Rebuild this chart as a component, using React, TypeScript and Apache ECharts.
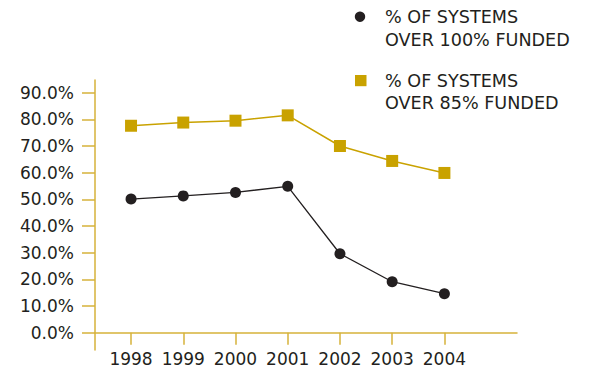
import React, { useEffect, useRef } from "react";
import * as echarts from "echarts";

const years = [1998, 1999, 2000, 2001, 2002, 2003, 2004];
const over100 = [50.1, 51.3, 52.6, 54.9, 29.6, 19.1, 14.6];
const over85 = [77.6, 78.8, 79.5, 81.5, 70.0, 64.4, 59.9];
const yTicks = [0, 10, 20, 30, 40, 50, 60, 70, 80, 90];
const legendLabels = ["% OF SYSTEMS\nOVER 100% FUNDED", "% OF SYSTEMS\nOVER 85% FUNDED"];

const BLACK = "#231F20";
const GOLD = "#C9A200";
const AXIS_GOLD = "#D6B23A";
const FONT = "DejaVu Sans";

export default function App() {
  const ref = useRef<HTMLDivElement>(null);
  useEffect(() => {
    if (!ref.current) return;
    const chart = echarts.init(ref.current, null, { renderer: "svg" });
    chart.setOption({
      animation: false,
      backgroundColor: "#ffffff",
      grid: { left: 95, right: 74, top: 80, bottom: 19, outerBoundsMode: "none" },
      xAxis: {
        type: "value",
        min: 1997.31,
        max: 2005.39,
        splitLine: { show: false },
        axisLine: { onZero: true, lineStyle: { color: AXIS_GOLD, width: 1.5 } },
        axisTick: { customValues: years, length: 12, lineStyle: { color: AXIS_GOLD, width: 1.5 } },
        axisLabel: {
          customValues: years,
          formatter: (v: number) => String(v),
          margin: 0,
          color: BLACK,
          fontFamily: FONT,
          fontSize: 17,
        },
      },
      yAxis: {
        type: "value",
        min: -6.5,
        max: 94.76,
        splitLine: { show: false },
        axisLine: { show: true, onZero: false, lineStyle: { color: AXIS_GOLD, width: 1.5 } },
        axisTick: { show: true, customValues: yTicks, length: 13, lineStyle: { color: AXIS_GOLD, width: 1.5 } },
        axisLabel: {
          customValues: yTicks,
          formatter: (v: number) => v.toFixed(1) + "%",
          margin: 21,
          color: BLACK,
          fontFamily: FONT,
          fontSize: 17,
        },
      },
      series: [
        {
          name: "over100",
          type: "line",
          data: years.map((y, i) => [y, over100[i]]),
          symbol: "circle",
          symbolSize: 11,
          itemStyle: { color: BLACK },
          lineStyle: { color: BLACK, width: 1.3 },
          z: 3,
        },
        {
          name: "over85",
          type: "line",
          data: years.map((y, i) => [y, over85[i]]),
          symbol: "rect",
          symbolSize: 12,
          itemStyle: { color: GOLD },
          lineStyle: { color: GOLD, width: 1.5 },
          z: 2,
        },
      ],
      graphic: [
        { type: "circle", shape: { cx: 360, cy: 16.7, r: 5.2 }, style: { fill: BLACK } },
        { type: "rect", shape: { x: 355, y: 75, width: 11.5, height: 11.2 }, style: { fill: GOLD } },
        {
          type: "text",
          x: 385,
          y: 17.5 - 11.1,
          style: { text: legendLabels[0], font: `17.6px "${FONT}"`, fill: BLACK, lineHeight: 22.2, verticalAlign: "top" },
        },
        {
          type: "text",
          x: 385,
          y: 81 - 11.1,
          style: { text: legendLabels[1], font: `17.6px "${FONT}"`, fill: BLACK, lineHeight: 22.2, verticalAlign: "top" },
        },
      ],
    });
    return () => chart.dispose();
  }, []);
  return (
    <div
      ref={ref}
      style={{ position: "fixed", left: 0, top: 0, width: 591, height: 369 }}
    />
  );
}
